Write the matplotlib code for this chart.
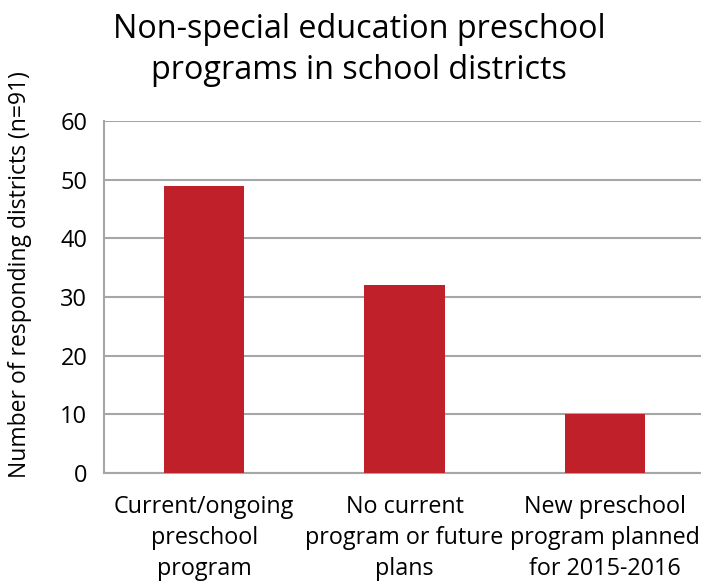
import matplotlib.pyplot as plt

categories = ['Current/ongoing\npreschool\nprogram',
              'No current\nprogram or future\nplans',
              'New preschool\nprogram planned\nfor 2015-2016']
values = [49, 32, 10]
yticks = [0, 10, 20, 30, 40, 50, 60]

plt.rcParams['font.family'] = ['Open Sans', 'DejaVu Sans']

fig = plt.figure(figsize=(7.01, 5.83), dpi=100)
ax = fig.add_axes([104 / 701, 1 - 473 / 583, 601 / 701, 352 / 583])

ax.bar(range(len(values)), values, width=0.4, color='#c0202a', zorder=3)
ax.set_xlim(-0.5, 2.5)
ax.set_ylim(0, 60)
ax.set_yticks(yticks)
ax.set_xticks(range(len(values)))
ax.set_xticklabels(categories, fontsize=16.8, linespacing=1.38)
ax.tick_params(axis='y', length=0, labelsize=17, pad=12)
ax.tick_params(axis='x', length=0, pad=16)
ax.yaxis.grid(True, color='#a6a6a6', linewidth=1.5, zorder=0)
for s in ['top', 'right']:
    ax.spines[s].set_visible(False)
for s in ['left', 'bottom']:
    ax.spines[s].set_color('#a6a6a6')
    ax.spines[s].set_linewidth(1.5)

fig.text(359 / 701, 1 - 50 / 583, 'Non-special education preschool\nprograms in school districts',
         ha='center', va='center', fontsize=23.3, linespacing=1.32)
fig.text(20 / 701, 1 - 275 / 583, 'Number of responding districts (n=91)',
         rotation=90, ha='center', va='center', fontsize=16.5)

fig.savefig('out.png', dpi=100)
